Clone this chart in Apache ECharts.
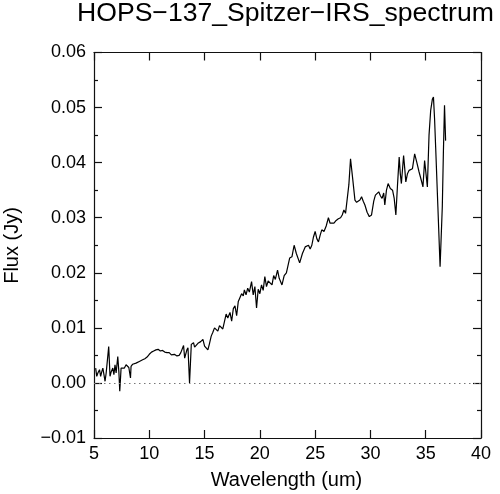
<!DOCTYPE html>
<html>
<head>
<meta charset="utf-8">
<script src="https://cdn.jsdelivr.net/npm/echarts@6/dist/echarts.min.js"></script>
<style>html,body{margin:0;padding:0;background:#fff}#c{width:500px;height:494px}</style>
</head>
<body>
<div id="c"></div>
<script>
const titleText = 'HOPS\u2212137_Spitzer\u2212IRS_spectrum';
const xName = 'Wavelength (um)';
const yName = 'Flux (Jy)';
const xTicks = [5, 10, 15, 20, 25, 30, 35, 40];
const yTicks = [-0.01, 0.00, 0.01, 0.02, 0.03, 0.04, 0.05, 0.06];

const wavelength = [
 5.15,5.25,5.35,5.5,5.6,5.7,5.8,5.9,6.0,6.1,6.2,6.33,6.45,6.55,6.7,6.8,6.9,7.0,7.15,7.25,
 7.33,7.45,7.6,7.75,7.9,8.0,8.15,8.3,8.35,8.5,8.65,8.8,8.95,9.1,9.2,9.4,9.6,9.8,10.0,10.2,
 10.4,10.6,10.8,11.0,11.2,11.4,11.6,11.8,12.0,12.1,12.27,12.5,12.7,12.85,13.0,13.1,13.2,13.3,13.4,13.5,
 13.64,13.8,14.0,14.1,14.25,14.4,14.5,14.65,14.85,15.0,15.15,15.3,15.45,15.6,15.75,15.9,16.05,16.2,16.35,16.5,
 16.65,16.8,16.95,17.1,17.3,17.45,17.6,17.75,17.9,18.05,18.2,18.35,18.5,18.6,18.75,18.9,19.05,19.25,19.4,19.55,
 19.7,19.85,20.0,20.15,20.3,20.45,20.6,20.75,20.9,21.1,21.25,21.4,21.6,21.75,22.0,22.2,22.4,22.55,22.7,22.9,
 23.1,23.3,23.6,23.85,24.1,24.4,24.55,24.7,24.85,25.0,25.15,25.3,25.45,25.6,25.8,26.0,26.2,26.35,26.5,26.7,
 26.9,27.1,27.3,27.45,27.6,27.75,27.9,28.05,28.2,28.4,28.6,28.75,28.9,29.05,29.2,29.35,29.5,29.7,29.9,30.1,
 30.3,30.45,30.6,30.75,30.9,31.05,31.2,31.3,31.45,31.6,31.8,32.0,32.15,32.3,32.45,32.6,32.7,32.8,33.0,33.1,
 33.2,33.35,33.5,33.65,33.8,34.0,34.2,34.4,34.6,34.75,34.9,35.0,35.15,35.3,35.45,35.6,35.7,35.8,35.9,36.1,
 36.3,36.5,36.6,36.7,36.8
];
const flux = [
 0.0027,0.0012,0.0018,0.0024,0.0012,0.0020,0.0027,0.0015,0.0003,0.0018,0.0021,0.0066,0.0012,0.0020,0.0027,0.0015,0.0033,0.0018,0.0048,0.0020,
 -0.0015,0.0027,0.0030,0.0027,0.0033,0.0030,0.0028,0.0009,0.0030,0.0034,0.0032,0.0036,0.0035,0.0039,0.0037,0.0042,0.0044,0.0047,0.0052,0.0056,
 0.0058,0.0060,0.0061,0.0058,0.0059,0.0056,0.0055,0.0055,0.0051,0.0054,0.0052,0.0049,0.0050,0.0055,0.0053,0.0068,0.0045,0.0048,0.0060,0.0064,
 0.0000,0.0070,0.0073,0.0065,0.0067,0.0072,0.0070,0.0075,0.0079,0.0067,0.0065,0.0060,0.0072,0.0085,0.0092,0.0100,0.0097,0.0094,0.0104,0.0101,
 0.0098,0.0100,0.0125,0.0118,0.0128,0.0112,0.0135,0.0140,0.0122,0.0148,0.0150,0.0162,0.0158,0.0169,0.0160,0.0172,0.0165,0.0184,0.0160,0.0175,
 0.0136,0.0170,0.0162,0.0178,0.0168,0.0193,0.0175,0.0185,0.0182,0.0178,0.0195,0.0188,0.0205,0.0190,0.0178,0.0195,0.0200,0.0198,0.0227,0.0229,
 0.0250,0.0235,0.0218,0.0235,0.0247,0.0250,0.0243,0.0250,0.0265,0.0275,0.0262,0.0256,0.0268,0.0278,0.0275,0.0285,0.0300,0.0290,0.0287,0.0290,
 0.0295,0.0298,0.0300,0.0305,0.0314,0.0308,0.0310,0.0360,0.0407,0.0370,0.0332,0.0328,0.0326,0.0332,0.0338,0.0330,0.0323,0.0310,0.0302,0.0305,
 0.0330,0.0341,0.0338,0.0347,0.0340,0.0335,0.0345,0.0323,0.0350,0.0362,0.0353,0.0350,0.0335,0.0305,0.0360,0.0410,0.0380,0.0362,0.0413,0.0390,
 0.0365,0.0380,0.0386,0.0385,0.0389,0.0416,0.0400,0.0383,0.0368,0.0356,0.0404,0.0402,0.0356,0.0450,0.0495,0.0515,0.0519,0.0480,0.0428,0.0320,
 0.0211,0.0320,0.0420,0.0504,0.0440
];

const FONT = '"Liberation Sans", Arial, Helvetica, sans-serif';
const AX = '#111';
const fmtY = v => (v < 0 ? '\u2212' : '') + Math.abs(v).toFixed(2);
const xMin = xTicks[0], xMax = xTicks[xTicks.length - 1], xStep = xTicks[1] - xTicks[0];
const yMin = yTicks[0], yMax = yTicks[yTicks.length - 1], yStep = 0.01;

const chart = echarts.init(document.getElementById('c'), null, { renderer: 'canvas' });
chart.setOption({
  animation: false,
  backgroundColor: '#fff',
  title: {
    text: titleText, left: 77, top: 0, padding: 0,
    textStyle: { fontFamily: FONT, fontSize: 26.6, fontWeight: 'normal', color: '#000' }
  },
  graphic: [
    { type: 'text', x: 286.5, y: 480, z: 10,
      style: { text: xName, font: '20px ' + FONT, fill: '#000', align: 'center', verticalAlign: 'middle' } },
    { type: 'text', x: 12, y: 245.5, rotation: Math.PI / 2, z: 10,
      style: { text: yName, font: '20px ' + FONT, fill: '#000', align: 'center', verticalAlign: 'middle' } }
  ],
  grid: { left: 94, right: 19, top: 52.5, bottom: 56, containLabel: false },
  xAxis: [
    {
      type: 'value', position: 'bottom', min: xMin, max: xMax, interval: xStep,
      axisLine: { show: true, onZero: false, lineStyle: { color: AX, width: 1.2 } },
      axisTick: { show: true, inside: true, length: 8, lineStyle: { color: AX, width: 1.2 } },
      splitLine: { show: false },
      axisLabel: { show: true, margin: 7, fontFamily: FONT, fontSize: 18, color: '#000' }
    },
    {
      type: 'value', position: 'top', min: xMin, max: xMax, interval: xStep,
      axisLine: { show: true, onZero: false, lineStyle: { color: AX, width: 1.2 } },
      axisTick: { show: true, inside: true, length: 8, lineStyle: { color: AX, width: 1.2 } },
      splitLine: { show: false },
      axisLabel: { show: true, inside: true, color: 'rgba(255,255,255,0)' }
    }
  ],
  yAxis: [
    {
      type: 'value', position: 'left', min: yMin, max: yMax, interval: yStep,
      axisLine: { show: true, onZero: false, lineStyle: { color: AX, width: 1.2 } },
      axisTick: { show: true, inside: true, length: 8, lineStyle: { color: AX, width: 1.2 } },
      minorTick: { show: true, splitNumber: 2, length: 4, lineStyle: { color: AX, width: 1.2 } },
      splitLine: { show: false },
      axisLabel: { show: true, margin: 8, fontFamily: FONT, fontSize: 18, color: '#000', formatter: fmtY }
    },
    {
      type: 'value', position: 'right', min: yMin, max: yMax, interval: yStep,
      axisLine: { show: true, onZero: false, lineStyle: { color: AX, width: 1.2 } },
      axisTick: { show: true, inside: true, length: 8, lineStyle: { color: AX, width: 1.2 } },
      minorTick: { show: true, splitNumber: 2, length: 4, lineStyle: { color: AX, width: 1.2 } },
      splitLine: { show: false },
      axisLabel: { show: true, inside: true, color: 'rgba(255,255,255,0)' }
    }
  ],
  series: [{
    type: 'line',
    xAxisIndex: 0, yAxisIndex: 0,
    showSymbol: false, symbol: 'none',
    lineStyle: { color: '#000', width: 1.2 },
    data: wavelength.map((w, i) => [w, flux[i]]),
    markLine: {
      silent: true, symbol: 'none', label: { show: false },
      lineStyle: { color: '#777', type: [1.5, 3.5], width: 1 },
      data: [{ yAxis: 0 }]
    },
    z: 3
  }]
});
</script>
</body>
</html>
